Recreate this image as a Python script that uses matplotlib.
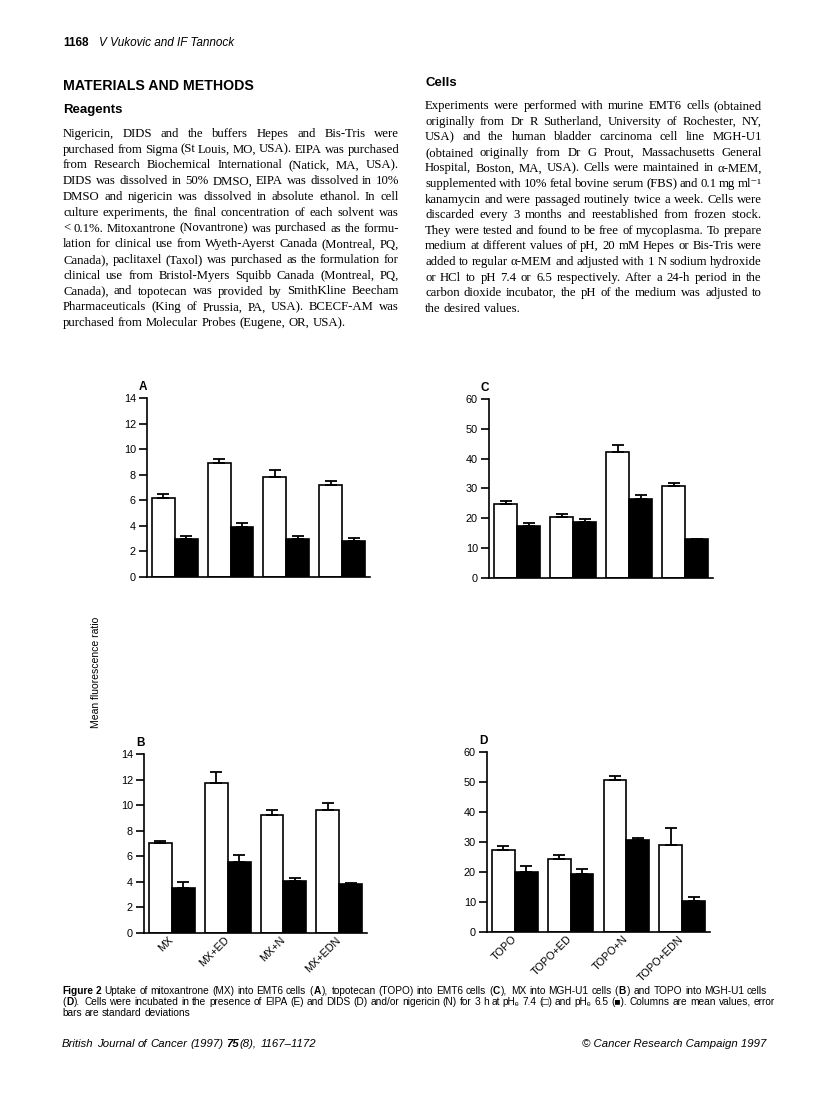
import matplotlib
matplotlib.use('Agg')
import matplotlib.pyplot as plt
import numpy as np

plt.rcParams['font.family'] = ['Liberation Sans', 'DejaVu Sans']

# ---- chart data ----
labels_mx = ['MX', 'MX+ED', 'MX+N', 'MX+EDN']
labels_topo = ['TOPO', 'TOPO+ED', 'TOPO+N', 'TOPO+EDN']

# A: MX into EMT6
a_ph74 = [6.2, 8.9, 7.8, 7.2]
a_ph74_sd = [0.3, 0.3, 0.55, 0.3]
a_ph65 = [3.0, 3.9, 3.0, 2.85]
a_ph65_sd = [0.2, 0.3, 0.2, 0.2]

# C: TOPO into EMT6
c_ph74 = [24.8, 20.5, 42.2, 30.7]
c_ph74_sd = [1.0, 1.0, 2.4, 1.0]
c_ph65 = [17.3, 18.8, 26.6, 13.0]
c_ph65_sd = [1.0, 1.1, 1.3, 0.2]

# B: MX into MGH-U1
b_ph74 = [7.0, 11.7, 9.2, 9.6]
b_ph74_sd = [0.2, 0.9, 0.4, 0.6]
b_ph65 = [3.5, 5.55, 4.05, 3.8]
b_ph65_sd = [0.5, 0.55, 0.25, 0.1]

# D: TOPO into MGH-U1
d_ph74 = [27.3, 24.2, 50.5, 29.0]
d_ph74_sd = [1.4, 1.4, 1.6, 5.5]
d_ph65 = [20.1, 19.2, 30.5, 10.3]
d_ph65_sd = [1.8, 1.8, 0.7, 1.3]

# ---- page text ----
reagents_lines = [
    'Nigericin, DIDS and the buffers Hepes and Bis-Tris were',
    'purchased from Sigma (St Louis, MO, USA). EIPA was purchased',
    'from Research Biochemical International (Natick, MA, USA).',
    'DIDS was dissolved in 50% DMSO, EIPA was dissolved in 10%',
    'DMSO and nigericin was dissolved in absolute ethanol. In cell',
    'culture experiments, the final concentration of each solvent was',
    '< 0.1%. Mitoxantrone (Novantrone) was purchased as the formu-',
    'lation for clinical use from Wyeth-Ayerst Canada (Montreal, PQ,',
    'Canada), paclitaxel (Taxol) was purchased as the formulation for',
    'clinical use from Bristol-Myers Squibb Canada (Montreal, PQ,',
    'Canada), and topotecan was provided by SmithKline Beecham',
    'Pharmaceuticals (King of Prussia, PA, USA). BCECF-AM was',
    'purchased from Molecular Probes (Eugene, OR, USA).',
]
cells_lines = [
    'Experiments were performed with murine EMT6 cells (obtained',
    'originally from Dr R Sutherland, University of Rochester, NY,',
    'USA) and the human bladder carcinoma cell line MGH-U1',
    '(obtained originally from Dr G Prout, Massachusetts General',
    'Hospital, Boston, MA, USA). Cells were maintained in α-MEM,',
    'supplemented with 10% fetal bovine serum (FBS) and 0.1 mg ml⁻¹',
    'kanamycin and were passaged routinely twice a week. Cells were',
    'discarded every 3 months and reestablished from frozen stock.',
    'They were tested and found to be free of mycoplasma. To prepare',
    'medium at different values of pH, 20 mM Hepes or Bis-Tris were',
    'added to regular α-MEM and adjusted with 1 N sodium hydroxide',
    'or HCl to pH 7.4 or 6.5 respectively. After a 24-h period in the',
    'carbon dioxide incubator, the pH of the medium was adjusted to',
    'the desired values.',
]
caption_lines = [
    '**Figure 2** Uptake of mitoxantrone (MX) into EMT6 cells (**A**), topotecan (TOPO) into EMT6 cells (**C**), '
    'MX into MGH-U1 cells (**B**) and TOPO into MGH-U1 cells',
    '(**D**). Cells were incubated in the presence of EIPA (E) and DIDS (D) and/or nigericin (N) for 3 h at '
    'pHₑ 7.4 (□) and pHₑ 6.5 (■). Columns are mean values, error',
    'bars are standard deviations',
]

W, H = 816, 1116
fig = plt.figure(figsize=(W / 100, H / 100), dpi=100)
renderer = fig.canvas.get_renderer()


def fx(px):
    return px / W


def fy(py):
    return 1 - py / H


def text_width(s, **kw):
    t = fig.text(0, 0, s, **kw)
    w = t.get_window_extent(renderer).width
    t.remove()
    return w


def draw_line(x0, y, line, size, family, style='normal', width=None):
    # split into words, '**' toggles bold
    chars, bold, i = [], False, 0
    while i < len(line):
        if line.startswith('**', i):
            bold = not bold
            i += 2
            continue
        chars.append((line[i], bold))
        i += 1
    words, cur = [], []
    for ch, b in chars:
        if ch == ' ':
            if cur:
                words.append(cur)
                cur = []
        else:
            cur.append((ch, b))
    if cur:
        words.append(cur)

    kw = dict(fontsize=size, family=family, style=style, va='baseline')
    space = text_width('n n', **kw) - text_width('nn', **kw)
    placed = []
    for wd in words:
        runs = []
        for ch, b in wd:
            if runs and runs[-1][1] == b:
                runs[-1][0] += ch
            else:
                runs.append([ch, b])
        objs, wsum = [], 0
        for s, b in runs:
            t = fig.text(0, fy(y), s, fontweight='bold' if b else 'normal', **kw)
            w = t.get_window_extent(renderer).width
            objs.append((t, wsum))
            wsum += w + (0.8 if len(runs) > 1 else 0)
        placed.append((objs, wsum))
    total = sum(p[1] for p in placed)
    gap = space
    if width is not None and len(placed) > 1:
        gap = (width - total) / (len(placed) - 1)
    x = x0
    for objs, wsum in placed:
        for t, off in objs:
            t.set_x(fx(x + off))
        x += wsum + gap


def paragraph(x0, y0, dy, lines, width):
    for k, ln in enumerate(lines):
        last = k == len(lines) - 1
        draw_line(x0, y0 + k * dy, ln, 9.2, ['Liberation Serif', 'DejaVu Serif'],
                  width=None if last else width)


def bar_panel(rect, letter, ph74, sd74, ph65, sd65, ymax, ystep, labels=None):
    ax = fig.add_axes(rect)
    x = np.arange(len(ph74))
    ax.bar(x + 0.295, ph74, width=0.41, color='white', edgecolor='black', linewidth=1.2, zorder=2)
    ax.bar(x + 0.705, ph65, width=0.41, color='black', edgecolor='black', linewidth=1.2, zorder=2)
    zero = np.zeros(len(x))
    ax.errorbar(x + 0.295, ph74, yerr=[zero, sd74], fmt='none', ecolor='black',
                elinewidth=1.3, capsize=4, capthick=1.3, zorder=3)
    ax.errorbar(x + 0.705, ph65, yerr=[zero, sd65], fmt='none', ecolor='black',
                elinewidth=1.3, capsize=4, capthick=1.3, zorder=3)
    ax.set_xlim(0, 4)
    ax.set_ylim(0, ymax)
    ax.set_yticks(np.arange(0, ymax + 1, ystep))
    for side in ['top', 'right']:
        ax.spines[side].set_visible(False)
    for side in ['left', 'bottom']:
        ax.spines[side].set_linewidth(1.2)
    ax.tick_params(axis='y', direction='out', length=6, width=1.2, labelsize=7.8, pad=2)
    ax.tick_params(axis='x', length=0, pad=4)
    if labels:
        ax.set_xticks(x + 0.5)
        ax.set_xticklabels(labels, rotation=45, ha='right', va='center',
                           rotation_mode='anchor', fontsize=7.8)
    else:
        ax.set_xticks([])
    ax.text(-0.036, 1.06, letter, transform=ax.transAxes, fontweight='bold',
            fontsize=8.5, ha='left', va='center')
    return ax


# ---- header and methods text ----
fig.text(fx(63), fy(45.5), '1168', fontsize=8.5, fontweight='bold', va='baseline')
fig.text(fx(99), fy(45.5), 'V Vukovic and IF Tannock', fontsize=8.5, style='italic', va='baseline')
fig.text(fx(63), fy(90), 'MATERIALS AND METHODS', fontsize=10.2, fontweight='bold', va='baseline')
fig.text(fx(63), fy(113), 'Reagents', fontsize=9.5, fontweight='bold', va='baseline')
fig.text(fx(425), fy(86), 'Cells', fontsize=9.5, fontweight='bold', va='baseline')

paragraph(63, 137, 15.75, reagents_lines, 336)
paragraph(425, 109, 15.6, cells_lines, 337)

# ---- the four panels ----
bar_panel([0.1801, 0.4830, 0.2733, 0.1604], 'A', a_ph74, a_ph74_sd, a_ph65, a_ph65_sd, 14, 2)
bar_panel([0.5993, 0.4821, 0.2745, 0.1604], 'C', c_ph74, c_ph74_sd, c_ph65, c_ph65_sd, 60, 10)
bar_panel([0.1765, 0.1640, 0.2733, 0.1604], 'B', b_ph74, b_ph74_sd, b_ph65, b_ph65_sd, 14, 2, labels_mx)
bar_panel([0.5968, 0.1649, 0.2733, 0.1613], 'D', d_ph74, d_ph74_sd, d_ph65, d_ph65_sd, 60, 10, labels_topo)

fig.text(fx(96), fy(672), 'Mean fluorescence ratio', rotation=90, fontsize=7.5,
         ha='center', va='center')

# ---- caption and footer ----
for k, ln in enumerate(caption_lines):
    draw_line(62, 994 + k * 11, ln, 7.3, ['Liberation Sans', 'DejaVu Sans'])

draw_line(62, 1047, 'British Journal of Cancer (1997) **75**(8), 1167–1172', 8.2,
          ['Liberation Sans', 'DejaVu Sans'], style='italic')
fig.text(fx(766), fy(1047), '© Cancer Research Campaign 1997', fontsize=8.2,
         style='italic', ha='right', va='baseline')

fig.savefig('out.png', dpi=100)
